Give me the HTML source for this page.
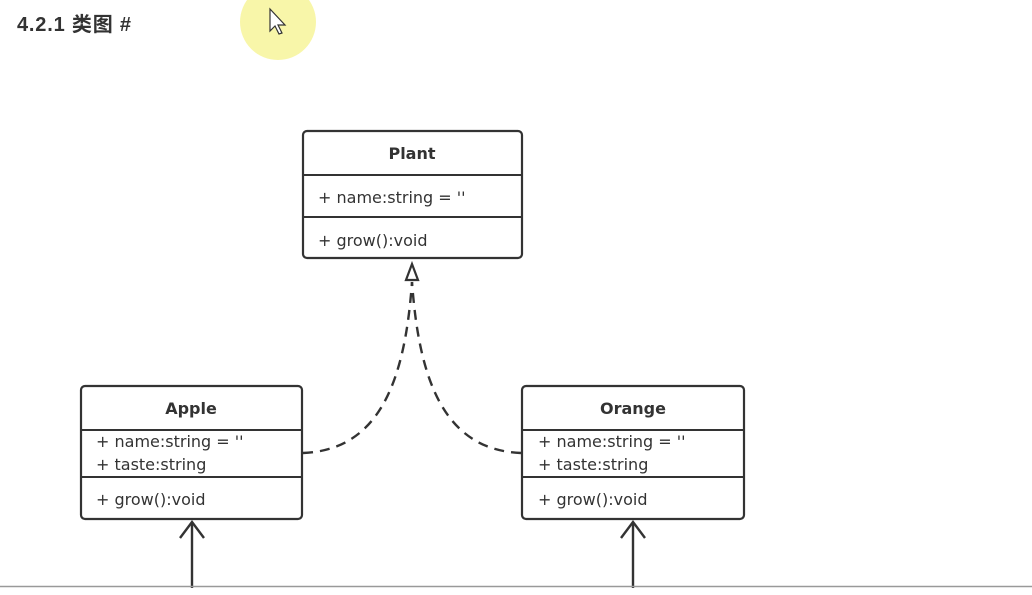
<!DOCTYPE html>
<html><head><meta charset="utf-8"><style>
html,body{margin:0;padding:0;background:#fff;}
body{width:1032px;height:590px;overflow:hidden;position:relative;}
svg text{font-family:"DejaVu Sans","Liberation Sans",sans-serif;fill:#333;}
</style></head><body>
<svg width="1032" height="590" viewBox="0 0 1032 590" xmlns="http://www.w3.org/2000/svg">
<circle cx="278" cy="22" r="38" fill="#f7f59a" opacity="0.85"/>
<path d="M270 9 L270 31 L275 26 L279 34 L282 33 L278 25 L285 25 Z" fill="#fff" stroke="#333" stroke-width="1.2"/>
<text x="17" y="31" style="font-family:'Liberation Sans','Noto Sans CJK SC',sans-serif" font-size="20" font-weight="bold" fill="#333" textLength="114">4.2.1 类图 #</text>

<g fill="#fff" stroke="#333" stroke-width="2.2">
<rect x="303" y="131" width="219" height="127" rx="4"/>
<rect x="81" y="386" width="221" height="133" rx="4"/>
<rect x="522" y="386" width="222" height="133" rx="4"/>
</g>
<g stroke="#333" stroke-width="2">
<line x1="303" y1="175" x2="522" y2="175"/>
<line x1="303" y1="217" x2="522" y2="217"/>
<line x1="81" y1="430" x2="302" y2="430"/>
<line x1="81" y1="477" x2="302" y2="477"/>
<line x1="522" y1="430" x2="744" y2="430"/>
<line x1="522" y1="477" x2="744" y2="477"/>
</g>
<g font-size="16">
<text x="412" y="159" text-anchor="middle" font-weight="bold">Plant</text>
<text x="318" y="203">+ name:string = ''</text>
<text x="318" y="246">+ grow():void</text>
<text x="191" y="414" text-anchor="middle" font-weight="bold">Apple</text>
<text x="96" y="447">+ name:string = ''</text>
<text x="96" y="470">+ taste:string</text>
<text x="96" y="505">+ grow():void</text>
<text x="633" y="414" text-anchor="middle" font-weight="bold">Orange</text>
<text x="538" y="447">+ name:string = ''</text>
<text x="538" y="470">+ taste:string</text>
<text x="538" y="505">+ grow():void</text>
</g>
<g fill="none" stroke="#333" stroke-width="2.4" stroke-dasharray="10,7">
<path d="M303 453 C 380 450, 405 380, 412 282"/>
<path d="M521 453 C 444 450, 419 380, 412 282"/>
</g>
<path d="M412 264 L406 280 L418 280 Z" fill="#fff" stroke="#333" stroke-width="2.2"/>
<g fill="none" stroke="#333" stroke-width="2.4">
<line x1="192" y1="522" x2="192" y2="588"/>
<path d="M180 538 L192 522 L204 538"/>
<line x1="633" y1="522" x2="633" y2="588"/>
<path d="M621 538 L633 522 L645 538"/>
</g>
<line x1="0" y1="586.5" x2="1032" y2="586.5" stroke="#999" stroke-width="1.5"/>
</svg>
</body></html>
